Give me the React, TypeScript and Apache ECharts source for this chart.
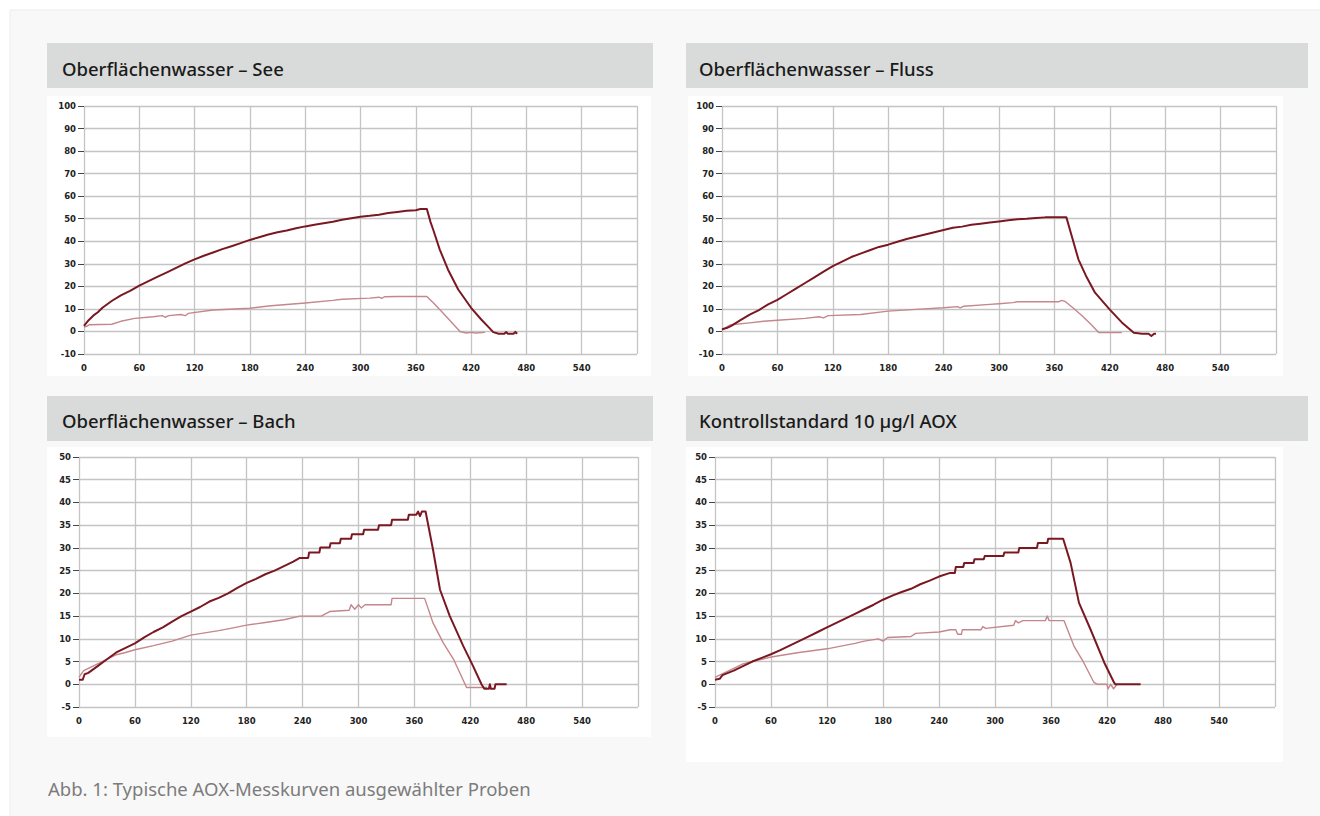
import { useEffect, useRef } from "react";
import * as echarts from "echarts";

const panelTitles = [
  "Oberflächenwasser – See",
  "Oberflächenwasser – Fluss",
  "Oberflächenwasser – Bach",
  "Kontrollstandard 10 µg/l AOX",
];
const caption = "Abb. 1: Typische AOX-Messkurven ausgewählter Proben";

const xMin = 0;
const xMax = 600;
const xStep = 60;
const yRangesTop = [-10, 100, 10];
const yRangesBottom = [-5, 50, 5];

// time [s], AOX signal
const seeDark: [number, number][] = [
  [0, 2.5], [5, 5], [10, 7], [15, 8.5], [20, 10.5], [30, 13.5], [40, 16], [50, 18], [60, 20.3],
  [70, 22.3], [80, 24.3], [90, 26.2], [100, 28.2], [110, 30.2], [120, 32], [130, 33.6], [140, 35],
  [150, 36.5], [160, 37.8], [170, 39.2], [180, 40.6], [190, 41.8], [200, 43], [210, 44], [220, 44.8],
  [230, 45.8], [240, 46.6], [250, 47.3], [260, 48], [270, 48.7], [280, 49.5], [290, 50.2], [300, 50.9],
  [310, 51.3], [320, 51.8], [330, 52.5], [340, 53], [350, 53.5], [360, 53.8], [365, 54.3], [372, 54.3],
  [376, 48.5], [379, 45], [386, 36.3], [395, 27.4], [406, 18.6], [420, 10.5], [431, 5.3], [440, 1.5],
  [444, -0.3], [450, -1], [456, -1], [458, -0.3], [460, -1], [466, -1], [468, -0.2], [470, -1],
];
const seeLight: [number, number][] = [
  [0, 2], [3, 2.3], [6, 3], [30, 3.2], [40, 4.5], [55, 5.8], [75, 6.5], [85, 7], [88, 6.3], [92, 7],
  [105, 7.5], [110, 7], [113, 8], [140, 9.5], [180, 10.3], [200, 11.3], [240, 12.6], [270, 13.8],
  [280, 14.3], [310, 14.8], [320, 15.2], [323, 14.7], [326, 15.4], [340, 15.5], [372, 15.5], [380, 12.3],
  [390, 8], [400, 3.5], [408, 0], [415, -0.7], [420, -0.4], [425, -0.7], [435, -0.4],
];
const flussDark: [number, number][] = [
  [0, 1], [5, 1.5], [10, 2.5], [20, 5], [30, 7.5], [40, 9.5], [50, 12], [60, 14], [70, 16.5], [80, 19],
  [90, 21.5], [100, 24], [110, 26.5], [120, 29], [130, 31], [140, 33], [150, 34.5], [160, 36],
  [170, 37.5], [180, 38.5], [190, 39.8], [200, 41], [210, 42], [220, 43], [230, 44], [240, 45],
  [250, 46], [260, 46.5], [270, 47.3], [280, 47.8], [290, 48.3], [300, 48.8], [310, 49.3], [320, 49.8],
  [330, 50], [340, 50.3], [350, 50.6], [373, 50.6], [379, 42], [386, 32], [395, 24], [404, 17.2],
  [420, 9.7], [433, 4], [446, -0.6], [455, -1], [462, -1], [465, -2], [468, -1], [470, -1],
];
const flussLight: [number, number][] = [
  [0, 0.5], [5, 2], [10, 3], [30, 3.8], [45, 4.5], [60, 5], [90, 5.8], [105, 6.5], [110, 6], [115, 7],
  [150, 7.5], [180, 9], [210, 9.8], [240, 10.5], [255, 11], [258, 10.5], [262, 11.2], [290, 12],
  [300, 12.3], [315, 12.8], [320, 13.2], [330, 13.2], [365, 13.2], [368, 13.8], [372, 13.2],
  [380, 10.5], [390, 7], [400, 3], [408, -0.5], [433, -0.5],
];
const bachDark: [number, number][] = [
  [0, 1], [4, 1], [6, 2.2], [10, 2.5], [20, 4], [30, 5.5], [40, 7], [50, 8], [60, 9], [70, 10.3],
  [80, 11.5], [90, 12.5], [100, 13.8], [110, 15], [120, 16], [130, 17], [140, 18.2], [150, 19],
  [160, 20], [170, 21.2], [180, 22.3], [190, 23.2], [200, 24.2], [210, 25], [220, 26], [230, 27],
  [237, 27.8], [246, 27.8], [247, 29], [258, 29], [259, 30.1], [269, 30.1], [270, 31], [280, 31],
  [281, 32], [292, 32], [293, 33], [305, 33], [306, 34], [321, 34], [322, 35], [335, 35], [336, 36.2],
  [353, 36.2], [354, 37.3], [362, 37.3], [364, 38], [366, 37], [368, 38], [372, 38], [380, 29.6],
  [387.5, 20.8], [398, 15], [412.5, 8.4], [423, 4], [432, 0], [435, -1], [440, -1], [441, 0],
  [442, -1], [446, -1], [447, 0], [459, 0],
];
const bachLight: [number, number][] = [
  [0, 1.5], [5, 3], [10, 3.5], [20, 4.5], [30, 5.5], [40, 6.5], [50, 7], [60, 7.6], [80, 8.5],
  [100, 9.5], [120, 10.8], [150, 11.8], [160, 12.2], [180, 13], [200, 13.6], [220, 14.2], [237, 15],
  [260, 15], [269, 16], [290, 16.3], [292, 17.5], [296, 16.5], [300, 17.5], [303, 16.8], [307, 17.5],
  [335, 17.5], [336, 18.9], [371, 18.9], [380, 13.5], [391, 9.1], [402, 5.5], [416, -0.7], [438, -0.7],
];
const kontrollDark: [number, number][] = [
  [0, 1], [5, 1.2], [8, 2], [20, 3], [30, 4], [40, 5], [50, 5.8], [60, 6.6], [70, 7.5], [80, 8.5],
  [90, 9.5], [100, 10.5], [110, 11.5], [120, 12.5], [130, 13.5], [140, 14.5], [150, 15.5], [160, 16.5],
  [170, 17.5], [180, 18.6], [190, 19.5], [200, 20.3], [210, 21], [220, 22], [230, 22.8], [240, 23.7],
  [252, 24.5], [257, 24.5], [258, 25.8], [266, 25.8], [267, 26.7], [277, 26.7], [278, 27.5],
  [288, 27.5], [289, 28.2], [309, 28.2], [310, 29], [325, 29], [326, 30], [345, 30], [346, 31.1],
  [356, 31.1], [357, 32], [373, 32], [381, 26.7], [390, 17.9], [402.5, 12], [417, 4.8], [427.5, 0.4],
  [429, 0], [456, 0],
];
const kontrollLight: [number, number][] = [
  [0, 1.5], [5, 2], [10, 2.5], [20, 3.5], [30, 4.5], [40, 5], [60, 6], [90, 7], [120, 7.8], [150, 9],
  [160, 9.5], [175, 10], [180, 9.5], [185, 10.3], [210, 10.5], [215, 11.2], [240, 11.5], [252, 12],
  [258, 12], [260, 11], [264, 11], [265, 12], [285, 12], [287, 12.7], [290, 12.3], [320, 13],
  [322, 14], [325, 13.5], [330, 14], [354, 14], [356, 15], [358, 14], [374, 14], [384.6, 8.4],
  [395, 4.8], [406, 0.4], [410, 0], [420, 0], [421, -1], [424, 0], [427, -1], [431, 0],
];

const panelSeries = [
  [seeDark, seeLight],
  [flussDark, flussLight],
  [bachDark, bachLight],
  [kontrollDark, kontrollLight],
];

const DARK = "#7a1822";
const LIGHT = "#c4878b";
const GRIDLINE = "#c4c4c4";

export default function App() {
  const ref = useRef<HTMLDivElement>(null);

  useEffect(() => {
    document.body.style.margin = "0";
    const chart = echarts.init(ref.current!, null, { renderer: "svg" });

    const grids = [
      { left: 84, top: 106, width: 553, height: 248 },
      { left: 722, top: 106, width: 554, height: 248 },
      { left: 79, top: 457, width: 559, height: 250 },
      { left: 715, top: 457, width: 560, height: 250 },
    ];
    const yRanges = [yRangesTop, yRangesTop, yRangesBottom, yRangesBottom];

    const labelFont = {
      color: "#222",
      fontWeight: "bold" as const,
      fontSize: 8.5,
      fontFamily: "DejaVu Sans",
    };

    const xAxes = grids.map((_, i) => ({
      type: "value" as const,
      gridIndex: i,
      min: xMin,
      max: xMax,
      interval: xStep,
      axisLine: { show: false },
      axisTick: { show: false },
      axisLabel: {
        ...labelFont,
        margin: 9,
        formatter: (v: number) => (v === xMax ? "" : String(v)),
      },
      splitLine: { show: true, lineStyle: { color: GRIDLINE, width: 1.3 } },
    }));

    const yAxes = grids.map((_, i) => ({
      type: "value" as const,
      gridIndex: i,
      min: yRanges[i][0],
      max: yRanges[i][1],
      interval: yRanges[i][2],
      axisLine: { show: false },
      axisTick: { show: true, length: 6, lineStyle: { color: "#444", width: 1 } },
      axisLabel: { ...labelFont, margin: 8 },
      splitLine: { show: true, lineStyle: { color: GRIDLINE, width: 1.3 } },
    }));

    const series: any[] = [];
    panelSeries.forEach((pair, i) => {
      pair.forEach((data, j) => {
        series.push({
          type: "line",
          xAxisIndex: i,
          yAxisIndex: i,
          data,
          showSymbol: false,
          symbol: "none",
          z: j === 0 ? 4 : 3,
          lineStyle: {
            color: j === 0 ? DARK : LIGHT,
            width: j === 0 ? 2 : 1.4,
            join: "round",
          },
        });
      });
    });

    const headerBoxes = [
      { x: 47, y: 43, w: 606, h: 45, tx: 62, ty: 68 },
      { x: 686, y: 43, w: 622, h: 45, tx: 699, ty: 68 },
      { x: 47, y: 396, w: 606, h: 45, tx: 62, ty: 420 },
      { x: 686, y: 396, w: 622, h: 45, tx: 699, ty: 420 },
    ];
    const whiteBoxes = [
      { x: 47, y: 96, w: 604, h: 280 },
      { x: 688, y: 96, w: 595, h: 280 },
      { x: 47, y: 447, w: 604, h: 290 },
      { x: 686, y: 447, w: 597, h: 315 },
    ];

    const graphic: any[] = [
      {
        type: "rect",
        z: -20,
        shape: { x: 10, y: 10, width: 1330, height: 820 },
        style: { fill: "#f8f8f8", stroke: "#ececec", lineWidth: 1 },
      },
      ...whiteBoxes.map((b) => ({
        type: "rect",
        z: -15,
        shape: { x: b.x, y: b.y, width: b.w, height: b.h },
        style: { fill: "#ffffff" },
      })),
      ...headerBoxes.map((b) => ({
        type: "rect",
        z: -15,
        shape: { x: b.x, y: b.y, width: b.w, height: b.h },
        style: { fill: "#d9dbdb" },
      })),
      ...headerBoxes.map((b, i) => ({
        type: "text",
        z: 10,
        x: b.tx,
        y: b.ty,
        style: {
          text: panelTitles[i],
          fill: "#1a1a1a",
          font: "500 18.5px 'Noto Sans'",
          textVerticalAlign: "middle",
          verticalAlign: "middle",
        },
      })),
      {
        type: "text",
        z: 10,
        x: 48,
        y: 788,
        style: {
          text: caption,
          fill: "#7c7c7c",
          font: "400 18.5px 'Noto Sans'",
          verticalAlign: "middle",
          textVerticalAlign: "middle",
        },
      },
    ];

    chart.setOption({
      animation: false,
      backgroundColor: "#ffffff",
      grid: grids.map((g) => ({ ...g, containLabel: false })),
      xAxis: xAxes,
      yAxis: yAxes,
      series,
      graphic,
    });

    return () => chart.dispose();
  }, []);

  return <div ref={ref} style={{ width: 1320, height: 816 }} />;
}
